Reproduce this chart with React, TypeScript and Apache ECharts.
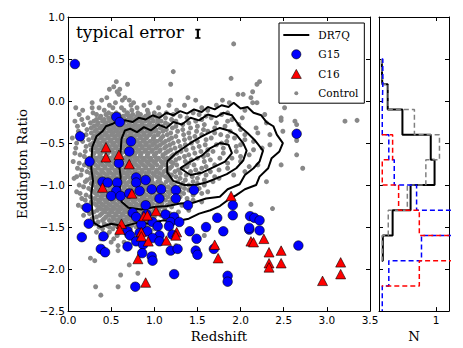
import React, { useEffect, useRef } from 'react';
import * as echarts from 'echarts';

// ---------------- data ----------------
const xTicks = [0, 0.5, 1, 1.5, 2, 2.5, 3, 3.5];
const yTicks = [-2.5, -2, -1.5, -1, -0.5, 0, 0.5, 1];

const g15Points: [number, number][] = [
  [0.08, 0.44], [0.56, -0.19], [0.60, -0.25], [0.14, -0.42], [0.73, -0.48], [0.71, -0.60],
  [0.25, -0.72], [0.59, -0.74], [0.40, -0.96], [0.46, -0.97], [0.57, -0.97], [0.79, -0.91],
  [0.79, -0.97], [0.90, -0.94], [0.56, -1.07], [0.50, -1.13], [0.61, -1.13], [0.71, -1.10],
  [0.83, -1.07], [0.97, -1.05], [1.08, -1.05], [1.25, -1.06], [1.46, -1.06], [1.25, -1.16],
  [1.39, -1.24], [1.06, -1.16], [0.90, -1.24], [0.22, -1.27], [0.75, -1.33], [0.79, -1.38],
  [0.91, -1.35], [1.13, -1.35], [1.23, -1.38], [1.19, -1.44], [1.29, -1.44], [0.24, -1.46],
  [0.85, -1.47], [0.98, -1.44], [1.04, -1.49], [1.73, -1.39], [1.60, -1.50], [0.16, -1.62],
  [0.41, -1.61], [0.69, -1.55], [0.72, -1.60], [0.83, -1.57], [0.92, -1.55], [1.06, -1.60],
  [1.17, -1.49], [0.38, -1.76], [0.43, -1.80], [0.69, -1.73], [0.79, -1.67], [0.87, -1.71],
  [0.86, -1.81], [0.98, -1.63], [0.97, -1.85], [0.98, -1.90], [1.06, -1.67], [1.19, -1.78],
  [1.27, -1.76], [1.21, -1.59], [1.23, -2.06], [0.78, -2.21], [1.41, -1.55], [1.49, -1.64],
  [1.48, -1.78], [1.50, -1.83], [1.69, -1.76], [1.80, -1.55], [2.10, -1.53], [2.22, -1.54],
  [2.67, -1.72], [1.85, -2.08], [1.85, -2.15], [2.65, -0.39], [1.91, -1.24], [1.91, -1.36],
  [2.11, -1.37], [2.16, -1.39], [2.22, -1.42], [2.10, -1.51],
];

const c16Points: [number, number][] = [
  [0.44, -0.55], [0.44, -0.67], [0.59, -0.64], [0.71, -0.75], [0.40, -1.03], [0.74, -1.10],
  [0.88, -1.37], [0.92, -1.36], [1.02, -1.31], [0.62, -1.46], [0.60, -1.53], [0.85, -1.56],
  [1.26, -1.56], [0.85, -1.61], [0.93, -1.67], [1.14, -1.66], [1.25, -1.60], [0.81, -1.88],
  [0.90, -2.16], [1.70, -1.71], [1.74, -1.87], [2.12, -1.67], [2.15, -1.68], [2.27, -1.64],
  [2.33, -1.80], [2.33, -1.93], [2.33, -1.98], [2.47, -1.78], [2.47, -1.93], [2.95, -2.14],
  [3.16, -1.92], [3.16, -2.06], [1.89, -1.13],
];

// control sample, by rows: [eddington ratio, redshifts]
const controlRows: [number, number[]][] = [
  [0.68, [1.92]],
  [0.35, [1.22]],
  [0.27, [1.89]],
  [0.23, [0.56, 2.22]],
  [0.20, [0.69, 1.19, 2.19]],
  [0.17, [0.53]],
  [0.14, [0.48, 0.60]],
  [0.11, [0.57, 2.14]],
  [0.08, [0.59, 1.97, 2.03]],
  [0.04, [0.45, 0.66, 1.39, 2.12]],
  [0.01, [0.39, 0.63, 0.71, 1.19, 1.48, 1.79]],
  [-0.02, [0.28, 0.55, 0.76, 0.95, 1.87, 2.14, 2.19]],
  [-0.05, [0.48, 0.73, 0.88, 1.17, 1.35, 1.72]],
  [-0.08, [0.09, 0.28, 0.36, 0.52, 0.62, 0.80, 1.05, 1.55, 2.51]],
  [-0.11, [0.17, 0.42, 0.65, 0.74, 0.92, 1.26, 1.62, 2.05]],
  [-0.14, [0.29, 0.47, 0.56, 0.69, 0.81, 0.93, 1.00, 1.14, 1.45, 1.85]],
  [-0.16, [0.13, 0.33, 0.44, 0.51, 0.59, 0.68, 0.75, 0.84, 0.93, 1.06, 1.22, 1.52, 1.78, 2.28]],
  [-0.18, [0.38, 0.52, 0.64, 0.72, 0.80, 0.90, 1.01, 1.30, 1.60]],
  [-0.20, [0.23, 0.37, 0.47, 0.55, 0.62, 0.71, 0.79, 0.88, 0.97, 1.13, 1.38, 1.66, 2.02, 2.47]],
  [-0.22, [0.16, 0.33, 0.42, 0.51, 0.58, 0.66, 0.75, 0.84, 0.93, 1.04, 1.20, 1.55, 1.90]],
  [-0.23, [3.35, 2.47]],
  [-0.24, [0.08, 0.30, 0.40, 0.48, 0.54, 0.61, 0.67, 0.74, 0.82, 0.90, 0.99, 1.08, 1.25, 1.48, 1.85, 2.63, 3.21]],
  [-0.26, [0.26, 0.35, 0.44, 0.51, 0.58, 0.64, 0.71, 0.78, 0.86, 0.95, 1.04, 1.13, 1.40, 1.72, 2.30]],
  [-0.28, [0.18, 0.34, 0.43, 0.50, 0.57, 0.64, 0.71, 0.78, 0.86, 0.94, 1.03, 1.16, 1.33, 1.58, 1.98, 2.65]],
  [-0.30, [0.11, 0.30, 0.39, 0.47, 0.54, 0.61, 0.68, 0.75, 0.82, 0.90, 0.99, 1.10, 1.25, 1.50, 1.82]],
  [-0.32, [0.27, 0.37, 0.46, 0.53, 0.60, 0.67, 0.74, 0.81, 0.89, 0.97, 1.07, 1.21, 1.42, 1.70, 2.18]],
  [-0.34, [0.22, 0.33, 0.42, 0.50, 0.57, 0.64, 0.71, 0.78, 0.85, 0.93, 1.02, 1.14, 1.33, 1.57, 2.00]],
  [-0.36, [0.12, 0.31, 0.40, 0.48, 0.55, 0.62, 0.70, 0.77, 0.85, 0.92, 1.00, 1.10, 1.27, 1.49, 1.62, 1.88, 2.49]],
  [-0.38, [0.27, 0.36, 0.44, 0.52, 0.59, 0.66, 0.73, 0.81, 0.88, 0.96, 1.05, 1.19, 1.40, 1.70, 2.20]],
  [-0.40, [0.21, 0.34, 0.43, 0.51, 0.58, 0.66, 0.73, 0.80, 0.88, 0.95, 1.04, 1.15, 1.34, 1.55, 1.77, 2.05, 2.34]],
  [-0.42, [0.15, 0.30, 0.39, 0.47, 0.55, 0.62, 0.70, 0.77, 0.84, 0.92, 1.00, 1.10, 1.25, 1.47, 1.85]],
  [-0.44, [0.05, 0.29, 0.38, 0.46, 0.54, 0.61, 0.69, 0.76, 0.84, 0.91, 0.99, 1.08, 1.20, 1.41, 1.66, 1.93]],
  [-0.46, [0.24, 0.34, 0.42, 0.50, 0.58, 0.65, 0.73, 0.80, 0.88, 0.99, 1.07, 1.17, 1.35, 1.60, 2.05]],
  [-0.47, [2.65]],
  [-0.48, [0.17, 0.33, 0.41, 0.49, 0.57, 0.64, 0.72, 0.79, 0.87, 0.95, 1.03, 1.13, 1.28, 1.50, 1.84, 2.15]],
  [-0.50, [0.10, 0.29, 0.37, 0.45, 0.53, 0.61, 0.68, 0.76, 0.83, 0.91, 1.00, 1.10, 1.22, 1.43, 1.78]],
  [-0.52, [0.26, 0.36, 0.44, 0.52, 0.60, 0.68, 0.75, 0.83, 0.90, 0.98, 1.07, 1.18, 1.36, 1.59, 1.72, 2.00, 2.34]],
  [-0.54, [0.21, 0.32, 0.40, 0.48, 0.56, 0.64, 0.71, 0.79, 0.86, 0.94, 1.03, 1.14, 1.30, 1.52, 1.95]],
  [-0.56, [0.09, 0.31, 0.39, 0.47, 0.55, 0.63, 0.71, 0.78, 0.86, 0.94, 1.02, 1.12, 1.24, 1.45, 1.80, 2.25]],
  [-0.58, [0.27, 0.35, 0.43, 0.51, 0.59, 0.67, 0.75, 0.82, 0.90, 0.98, 1.07, 1.19, 1.37, 1.62, 2.15]],
  [-0.60, [0.20, 0.34, 0.42, 0.50, 0.58, 0.66, 0.74, 0.81, 0.89, 0.97, 1.06, 1.16, 1.31, 1.54, 1.68, 1.95]],
  [-0.62, [0.08, 0.30, 0.38, 0.46, 0.54, 0.62, 0.70, 0.78, 0.85, 0.93, 1.02, 1.13, 1.26, 1.47, 1.80]],
  [-0.64, [0.14, 0.29, 0.37, 0.45, 0.53, 0.61, 0.69, 0.77, 0.84, 0.92, 1.00, 1.10, 1.22, 1.40, 1.62, 2.10, 2.65]],
  [-0.66, [0.19, 0.29, 0.37, 0.45, 0.53, 0.61, 0.68, 0.76, 0.84, 0.92, 1.01, 1.10, 1.20, 1.35, 1.57, 2.00]],
  [-0.68, [0.25, 0.33, 0.41, 0.49, 0.57, 0.65, 0.72, 0.80, 0.88, 0.96, 1.05, 1.15, 1.29, 1.50, 1.76, 1.90]],
  [-0.70, [0.23, 0.32, 0.40, 0.48, 0.56, 0.64, 0.72, 0.79, 0.87, 0.95, 1.03, 1.13, 1.25, 1.43, 1.65]],
  [-0.72, [0.06, 0.28, 0.36, 0.44, 0.52, 0.60, 0.68, 0.76, 0.83, 0.91, 0.99, 1.08, 1.19, 1.36, 1.58, 2.00]],
  [-0.74, [0.13, 0.30, 0.38, 0.46, 0.54, 0.62, 0.70, 0.77, 0.85, 0.93, 1.01, 1.10, 1.22, 1.40, 1.85]],
  [-0.76, [0.19, 0.32, 0.40, 0.48, 0.56, 0.64, 0.71, 0.79, 0.87, 0.95, 1.03, 1.13, 1.26, 1.46, 1.70, 2.20, 2.47]],
  [-0.78, [0.24, 0.35, 0.43, 0.51, 0.59, 0.67, 0.74, 0.82, 0.90, 0.98, 1.08, 1.20, 1.38, 1.60, 2.10]],
  [-0.80, [0.11, 0.27, 0.35, 0.43, 0.51, 0.59, 0.67, 0.75, 0.82, 0.90, 0.98, 1.07, 1.18, 1.33, 1.55, 1.85, 2.72]],
  [-0.82, [0.16, 0.31, 0.39, 0.47, 0.55, 0.63, 0.71, 0.78, 0.86, 0.94, 1.03, 1.14, 1.28, 1.48, 1.75]],
  [-0.84, [0.22, 0.31, 0.39, 0.47, 0.55, 0.63, 0.70, 0.78, 0.86, 0.94, 1.02, 1.11, 1.24, 1.42, 1.65, 2.05]],
  [-0.86, [0.26, 0.34, 0.42, 0.50, 0.58, 0.66, 0.74, 0.82, 0.90, 0.98, 1.06, 1.16, 1.30, 1.52]],
  [-0.88, [0.15, 0.29, 0.37, 0.45, 0.53, 0.61, 0.69, 0.77, 0.84, 0.92, 1.00, 1.09, 1.20, 1.37, 1.60, 1.92]],
  [-0.90, [0.10, 0.30, 0.38, 0.46, 0.54, 0.62, 0.70, 0.78, 0.86, 0.94, 1.03, 1.13, 1.25, 1.44, 1.70]],
  [-0.92, [0.07, 0.26, 0.34, 0.42, 0.50, 0.58, 0.66, 0.73, 0.81, 0.89, 0.97, 1.06, 1.16, 1.30, 1.50, 1.75]],
  [-0.94, [0.22, 0.33, 0.41, 0.49, 0.57, 0.65, 0.73, 0.81, 0.89, 0.97, 1.06, 1.18, 1.36, 1.58]],
  [-0.96, [0.20, 0.31, 0.39, 0.47, 0.55, 0.63, 0.71, 0.79, 0.87, 0.95, 1.04, 1.14, 1.27, 1.45, 1.68, 2.30]],
  [-0.98, [0.27, 0.35, 0.43, 0.51, 0.59, 0.67, 0.75, 0.83, 0.91, 0.99, 1.08, 1.20, 1.33, 1.50]],
  [-1.00, [0.13, 0.29, 0.37, 0.45, 0.53, 0.61, 0.68, 0.76, 0.84, 0.92, 1.01, 1.11, 1.23, 1.40, 1.58]],
  [-1.02, [0.18, 0.33, 0.41, 0.49, 0.57, 0.65, 0.72, 0.80, 0.88, 0.96, 1.05, 1.16, 1.30, 1.46]],
  [-1.04, [0.24, 0.33, 0.41, 0.49, 0.57, 0.65, 0.73, 0.81, 0.89, 0.98, 1.08, 1.19, 1.35, 1.52]],
  [-1.06, [0.27, 0.36, 0.44, 0.52, 0.60, 0.68, 0.76, 0.84, 0.92, 1.01, 1.11, 1.24, 1.40]],
  [-1.08, [0.10, 0.30, 0.38, 0.46, 0.54, 0.62, 0.70, 0.78, 0.86, 0.95, 1.05, 1.16, 1.30, 1.62]],
  [-1.10, [0.14, 0.32, 0.40, 0.48, 0.56, 0.64, 0.72, 0.80, 0.88, 0.97, 1.07, 1.18, 1.34, 1.55]],
  [-1.12, [0.21, 0.34, 0.42, 0.50, 0.58, 0.66, 0.74, 0.82, 0.91, 1.01, 1.12, 1.25, 1.45]],
  [-1.14, [0.26, 0.38, 0.46, 0.54, 0.62, 0.70, 0.78, 0.86, 0.95, 1.05, 1.16, 1.30]],
  [-1.16, [0.16, 0.31, 0.39, 0.47, 0.55, 0.63, 0.71, 0.79, 0.88, 0.98, 1.09, 1.21, 1.38]],
  [-1.18, [0.20, 0.35, 0.43, 0.51, 0.59, 0.67, 0.75, 0.83, 0.92, 1.02, 1.13, 1.27, 1.45]],
  [-1.20, [0.27, 0.36, 0.44, 0.52, 0.60, 0.68, 0.76, 0.85, 0.95, 1.06, 1.18, 1.55]],
  [-1.22, [0.31, 0.39, 0.47, 0.55, 0.63, 0.71, 0.79, 0.88, 0.98, 1.09, 1.22]],
  [-1.23, [2.12]],
  [-1.24, [0.12, 0.33, 0.41, 0.49, 0.57, 0.65, 0.73, 0.82, 0.92, 1.03, 1.15, 1.32]],
  [-1.26, [0.17, 0.36, 0.44, 0.52, 0.60, 0.68, 0.77, 0.86, 0.96, 1.07, 1.20]],
  [-1.28, [0.23, 0.38, 0.46, 0.54, 0.62, 0.70, 0.79, 0.89, 1.00, 1.12, 2.37]],
  [-1.30, [0.34, 0.42, 0.50, 0.58, 0.66, 0.74, 0.83, 0.93, 1.05, 1.40]],
  [-1.32, [0.30, 0.43, 0.51, 0.59, 0.67, 0.76, 0.86, 0.97, 1.10, 1.28]],
  [-1.34, [0.25, 0.39, 0.47, 0.55, 0.63, 0.71, 0.80, 0.91, 1.02, 1.18]],
  [-1.36, [0.18, 0.37, 0.48, 0.56, 0.64, 0.73, 0.83, 0.95, 1.08]],
  [-1.38, [0.33, 0.44, 0.52, 0.60, 0.68, 0.77, 0.88, 1.00, 1.12]],
  [-1.40, [0.28, 0.42, 0.53, 0.61, 0.70, 0.80, 0.92, 1.20]],
  [-1.42, [0.40, 0.48, 0.57, 0.65, 0.74, 0.84, 0.97]],
  [-1.44, [0.35, 0.50, 0.58, 0.67, 0.77, 0.90, 1.05]],
  [-1.46, [0.31, 0.42, 0.53, 0.62, 0.71, 0.81, 0.94]],
  [-1.48, [0.25, 0.45, 0.55, 0.64, 0.74, 0.87, 1.15]],
  [-1.50, [0.36, 0.48, 0.58, 0.68, 0.79, 0.92]],
  [-1.52, [0.40, 0.52, 0.62, 0.72, 0.84, 1.00]],
  [-1.56, [0.33, 0.48, 0.60, 0.70, 0.95]],
  [-1.60, [0.45, 0.57, 0.68, 0.82, 1.58]],
  [-1.64, [0.38, 0.53, 0.78]],
  [-1.68, [0.50, 0.65, 0.92]],
  [-1.72, [0.58, 1.25]],
  [-1.78, [0.58]],
  [-1.87, [0.26]],
  [-1.90, [0.31]],
  [-1.95, [0.71]],
  [-2.05, [0.81]],
  [-2.07, [0.61]],
  [-2.21, [0.32, 0.58]],
  [-2.31, [0.38]],
];

// DR7Q density contours (outer to inner)
const dr7qContour1: [number, number][] = [
  [0.28, -0.55], [0.33, -0.42], [0.40, -0.36], [0.44, -0.30], [0.52, -0.27], [0.58, -0.24],
  [0.67, -0.23], [0.75, -0.25], [0.82, -0.20], [0.90, -0.22], [0.98, -0.17], [1.06, -0.20],
  [1.14, -0.14], [1.22, -0.17], [1.30, -0.12], [1.38, -0.15], [1.46, -0.10], [1.55, -0.13],
  [1.62, -0.07], [1.70, -0.10], [1.78, -0.05], [1.86, -0.07], [1.92, -0.02], [2.00, -0.09],
  [2.08, -0.07], [2.15, -0.14], [2.24, -0.17], [2.30, -0.25], [2.38, -0.30], [2.42, -0.40],
  [2.49, -0.50], [2.45, -0.60], [2.36, -0.68], [2.32, -0.80], [2.22, -0.90], [2.18, -1.00],
  [2.05, -1.05], [1.95, -1.12], [1.85, -1.18], [1.76, -1.25], [1.65, -1.30], [1.52, -1.34],
  [1.40, -1.40], [1.25, -1.43], [1.10, -1.42], [0.95, -1.46], [0.80, -1.45], [0.65, -1.49],
  [0.50, -1.46], [0.38, -1.50], [0.30, -1.45], [0.28, -1.30], [0.27, -1.10], [0.29, -0.95],
  [0.27, -0.80], [0.28, -0.55],
];
const dr7qContour2: [number, number][] = [
  [0.62, -0.45], [0.66, -0.35], [0.72, -0.33], [0.80, -0.37], [0.88, -0.31], [0.96, -0.35],
  [1.05, -0.28], [1.14, -0.32], [1.22, -0.25], [1.32, -0.28], [1.42, -0.20], [1.52, -0.23],
  [1.62, -0.16], [1.72, -0.19], [1.80, -0.14], [1.90, -0.17], [1.99, -0.30], [2.08, -0.38],
  [2.16, -0.46], [2.26, -0.59], [2.22, -0.72], [2.15, -0.80], [2.05, -0.88], [1.99, -0.99],
  [1.85, -1.05], [1.76, -1.14], [1.60, -1.16], [1.45, -1.21], [1.30, -1.22], [1.15, -1.25],
  [1.00, -1.26], [0.85, -1.29], [0.70, -1.27], [0.62, -1.20], [0.60, -1.05], [0.61, -0.90],
  [0.59, -0.75], [0.61, -0.60], [0.62, -0.45],
];
const dr7qContour3: [number, number][] = [
  [1.15, -0.72], [1.25, -0.62], [1.35, -0.55], [1.45, -0.48], [1.55, -0.42], [1.65, -0.37],
  [1.76, -0.32], [1.86, -0.35], [1.95, -0.40], [2.03, -0.50], [2.07, -0.59], [2.03, -0.71],
  [1.95, -0.80], [1.84, -0.87], [1.72, -0.92], [1.60, -0.97], [1.48, -1.00], [1.35, -1.00],
  [1.22, -0.95], [1.15, -0.85], [1.15, -0.72],
];
const dr7qContour4: [number, number][] = [
  [1.30, -0.80], [1.42, -0.72], [1.55, -0.65], [1.65, -0.56], [1.76, -0.50], [1.86, -0.52],
  [1.90, -0.62], [1.82, -0.72], [1.70, -0.78], [1.56, -0.85], [1.42, -0.88], [1.30, -0.80],
];

const typicalError = { x: 1.505, y: 0.8, yErr: 0.05 };

// normalised histograms of Eddington ratio (bin edges, top to bottom)
const histEdges = [0.5, 0.2, -0.1, -0.4, -0.7, -1.0, -1.3, -1.6, -1.9, -2.2, -2.5];
const histDR7Q = [0.01, 0.11, 0.38, 0.90, 0.97, 0.53, 0.20, 0.02, 0, 0];
const histControl = [0.01, 0.12, 0.60, 1.06, 0.81, 0.47, 0.12, 0.01, 0, 0];
const histG15 = [0.02, 0.01, 0.01, 0.13, 0.23, 0.64, 1.30, 0.73, 0.13, 0.01];
const histC16 = [0, 0, 0, 0.20, 0.01, 0.31, 0.69, 1.30, 0.69, 0];

// ---------------- helpers ----------------
function stepOutline(edges: number[], values: number[]): [number, number][] {
  let s = 0;
  while (s < values.length && values[s] <= 0) s++;
  let t = values.length - 1;
  while (t >= 0 && values[t] <= 0) t--;
  const pts: [number, number][] = [[0, edges[s]]];
  for (let i = s; i <= t; i++) {
    pts.push([values[i], edges[i]]);
    pts.push([values[i], edges[i + 1]]);
  }
  pts.push([0, edges[t + 1]]);
  return pts;
}

const fmtNum = (v: number) => (v < 0 ? '\u2212' : '') + Math.abs(v).toFixed(1);

const SANS = 'DejaVu Sans';
const SERIF = 'DejaVu Serif';

export default function App() {
  const ref = useRef<HTMLDivElement>(null);
  useEffect(() => {
    if (!ref.current) return;
    const chart = echarts.init(ref.current, undefined, { renderer: 'svg', width: 463, height: 348 });
    const controlData: [number, number][] = [];
    controlRows.forEach(([y, xs]) => xs.forEach((x) => controlData.push([x, y])));

    const tick = { show: true, inside: true, length: 4, lineStyle: { color: '#000', width: 1 } };
    const line = { show: true, onZero: false, lineStyle: { color: '#000', width: 1 } };
    const label = { color: '#000', fontFamily: SANS, fontSize: 10.5 };
    const nameStyle = { color: '#000', fontFamily: SERIF, fontSize: 13.3 };

    const contourSeries = [dr7qContour1, dr7qContour2, dr7qContour3, dr7qContour4].map((c) => ({
      type: 'line',
      name: 'DR7Q',
      xAxisIndex: 0,
      yAxisIndex: 0,
      data: c,
      showSymbol: false,
      symbol: 'none',
      silent: true,
      z: 3,
      itemStyle: { color: '#000' },
      lineStyle: { color: '#000', width: 2 },
    }));

    const histSeries = [
      { name: 'hDR7Q', v: histDR7Q, color: '#000', type: 'solid', width: 2 },
      { name: 'hControl', v: histControl, color: '#808080', type: [5, 3], width: 1.5 },
      { name: 'hG15', v: histG15, color: '#0000ff', type: [5, 3], width: 1.5 },
      { name: 'hC16', v: histC16, color: '#ff0000', type: [5, 3], width: 1.5 },
    ].map((h) => ({
      type: 'line',
      name: h.name,
      xAxisIndex: 2,
      yAxisIndex: 2,
      data: stepOutline(histEdges, h.v),
      showSymbol: false,
      symbol: 'none',
      silent: true,
      clip: true,
      lineStyle: { color: h.color, width: h.width, type: h.type },
    }));

    const box = 'M0,0M30,12';
    chart.setOption({
      animation: false,
      backgroundColor: '#fff',
      grid: [
        { left: 68, top: 17, width: 302, height: 299 },
        { left: 379, top: 17, width: 70, height: 299 },
      ],
      xAxis: [
        {
          gridIndex: 0, type: 'value', position: 'bottom', min: 0, max: 3.5, interval: 0.5,
          name: 'Redshift', nameLocation: 'middle', nameGap: 14, nameTextStyle: nameStyle,
          axisLine: line, axisTick: tick, splitLine: { show: false },
          axisLabel: { ...label, margin: 3, formatter: (v: number) => v.toFixed(1), customValues: xTicks },
        },
        {
          gridIndex: 0, type: 'value', position: 'top', min: 0, max: 3.5, interval: 0.5,
          axisLine: line, axisTick: tick, splitLine: { show: false }, axisLabel: { show: false },
        },
        {
          gridIndex: 1, type: 'value', position: 'bottom', min: -0.05, max: 1.235,
          name: 'N', nameLocation: 'middle', nameGap: 14, nameTextStyle: nameStyle,
          axisLine: line, axisTick: { ...tick, customValues: [1] }, splitLine: { show: false },
          axisLabel: { ...label, margin: 3, customValues: [1], formatter: (v: number) => String(Math.round(v)) },
        },
        {
          gridIndex: 1, type: 'value', position: 'top', min: -0.05, max: 1.235,
          axisLine: line, axisTick: { ...tick, customValues: [1] }, splitLine: { show: false },
          axisLabel: { show: false },
        },
      ],
      yAxis: [
        {
          gridIndex: 0, type: 'value', position: 'left', min: -2.5, max: 1, interval: 0.5,
          name: 'Eddington Ratio', nameLocation: 'middle', nameGap: 31, nameRotate: 90, nameTextStyle: nameStyle,
          axisLine: line, axisTick: tick, splitLine: { show: false },
          axisLabel: { ...label, margin: 3, formatter: fmtNum, customValues: yTicks },
        },
        {
          gridIndex: 0, type: 'value', position: 'right', min: -2.5, max: 1, interval: 0.5,
          axisLine: line, axisTick: tick, splitLine: { show: false }, axisLabel: { show: false },
        },
        {
          gridIndex: 1, type: 'value', position: 'left', min: -2.5, max: 1, interval: 0.5,
          axisLine: line, axisTick: tick, splitLine: { show: false }, axisLabel: { show: false },
        },
        {
          gridIndex: 1, type: 'value', position: 'right', min: -2.5, max: 1, interval: 0.5,
          axisLine: line, axisTick: tick, splitLine: { show: false }, axisLabel: { show: false },
        },
      ],
      legend: {
        orient: 'vertical', left: 279, top: 23, padding: [6, 6, 4, 4], itemGap: 7,
        itemWidth: 30, itemHeight: 12, borderColor: '#000', borderWidth: 1, borderRadius: 0,
        backgroundColor: '#fff', selectedMode: false,
        textStyle: { color: '#000', fontFamily: SERIF, fontSize: 10.5, lineHeight: 12 },
        data: [
          { name: 'DR7Q', icon: `path://${box}M0,5H26V7H0Z`, itemStyle: { color: '#000', borderWidth: 0 } },
          { name: 'G15', icon: `path://${box}M17.6,6A4.6,4.6,0,1,1,8.4,6A4.6,4.6,0,1,1,17.6,6Z`, itemStyle: { color: '#0000ff', borderColor: '#000', borderWidth: 0.6 } },
          { name: 'C16', icon: `path://${box}M13,1.5L18,10.5L8,10.5Z`, itemStyle: { color: '#ff0000', borderColor: '#000', borderWidth: 0.6 } },
          { name: 'Control', icon: `path://${box}M15,6A2,2,0,1,1,11,6A2,2,0,1,1,15,6Z`, itemStyle: { color: '#888888', borderWidth: 0 } },
        ],
      },
      graphic: [
        {
          type: 'text', left: 76, top: 23, z: 10,
          style: { text: 'typical error', font: `17px "${SERIF}"`, fill: '#000' },
        },
      ],
      series: [
        {
          type: 'scatter', name: 'Control', xAxisIndex: 0, yAxisIndex: 0, data: controlData,
          symbol: 'circle', symbolSize: 5, silent: true, z: 2,
          itemStyle: { color: '#888888', opacity: 1 },
        },
        ...contourSeries,
        {
          type: 'scatter', name: 'G15', xAxisIndex: 0, yAxisIndex: 0, data: g15Points,
          symbol: 'circle', symbolSize: 9.5, silent: true, z: 4,
          itemStyle: { color: '#0000ff', borderColor: '#000', borderWidth: 0.6, opacity: 1 },
        },
        {
          type: 'scatter', name: 'C16', xAxisIndex: 0, yAxisIndex: 0, data: c16Points,
          symbol: 'triangle', symbolSize: [10, 9.5], silent: true, z: 5,
          itemStyle: { color: '#ff0000', borderColor: '#000', borderWidth: 0.6, opacity: 1 },
        },
        {
          type: 'custom', name: 'typical error', xAxisIndex: 0, yAxisIndex: 0, silent: true, z: 6,
          data: [[typicalError.x, typicalError.y, typicalError.yErr]],
          renderItem: (params: any, api: any) => {
            const x = api.value(0), y = api.value(1), e = api.value(2);
            const a = api.coord([x, y + e]);
            const b = api.coord([x, y - e]);
            const cap = 2.6;
            const st = { stroke: '#000', lineWidth: 2.2 };
            return {
              type: 'group',
              children: [
                { type: 'line', shape: { x1: a[0], y1: a[1], x2: b[0], y2: b[1] }, style: st },
                { type: 'line', shape: { x1: a[0] - cap, y1: a[1], x2: a[0] + cap, y2: a[1] }, style: { ...st, lineWidth: 1.6 } },
                { type: 'line', shape: { x1: b[0] - cap, y1: b[1], x2: b[0] + cap, y2: b[1] }, style: { ...st, lineWidth: 1.6 } },
              ],
            };
          },
        },
        ...histSeries,
      ],
    });
    return () => chart.dispose();
  }, []);
  return <div ref={ref} style={{ position: 'fixed', left: 0, top: 0, width: 463, height: 348 }} />;
}
